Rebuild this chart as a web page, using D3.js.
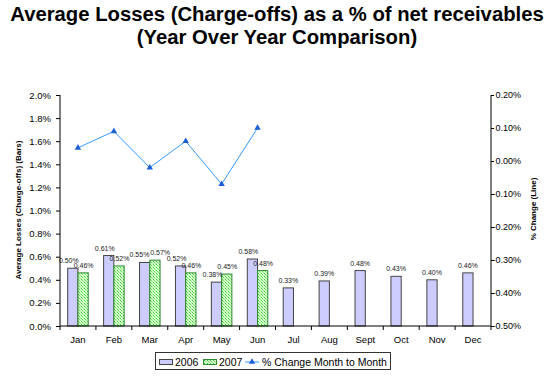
<!DOCTYPE html>
<html><head><meta charset="utf-8">
<script src="https://cdn.jsdelivr.net/npm/d3@7"></script>
<style>body{margin:0;background:#fff}svg{display:block;font-family:Arial,"Liberation Sans",sans-serif}</style>
</head><body><svg id="c" width="550" height="382"></svg>
<script>
const months = ["Jan","Feb","Mar","Apr","May","Jun","Jul","Aug","Sept","Oct","Nov","Dec"];
const losses2006 = [0.50,0.61,0.55,0.52,0.38,0.58,0.33,0.39,0.48,0.43,0.40,0.46];
const losses2007 = [0.46,0.52,0.57,0.46,0.45,0.48];
const pctChange = [0.04,0.09,-0.02,0.06,-0.07,0.10];
const leftTicks = [0,0.2,0.4,0.6,0.8,1.0,1.2,1.4,1.6,1.8,2.0];
const rightTicks = [-0.5,-0.4,-0.3,-0.2,-0.1,0,0.1,0.2];
const titleLines = ["Average Losses (Charge-offs) as a % of net receivables","(Year Over Year Comparison)"];
const seriesNames = ["2006","2007","% Change Month to Month"];

const svg = d3.select("#c");
const L = 60, R = 491, T = 95, B = 326;

const defs = svg.append("defs");
const pat = defs.append("pattern").attr("id","grn").attr("width",3).attr("height",3).attr("patternUnits","userSpaceOnUse");
pat.append("rect").attr("width",3).attr("height",3).attr("fill","#d8ffd0");
pat.append("rect").attr("x",0).attr("y",0).attr("width",1).attr("height",1).attr("fill","#33cc33");
pat.append("rect").attr("x",1).attr("y",1).attr("width",1).attr("height",1).attr("fill","#66dd55");
pat.append("rect").attr("x",2).attr("y",2).attr("width",1).attr("height",1).attr("fill","#99ee88");

// title
svg.append("g").selectAll("text").data(titleLines).join("text")
  .attr("x",277).attr("y",(d,i)=>21+i*23).attr("text-anchor","middle")
  .attr("font-size","20.3px").attr("font-weight","bold").attr("fill","#000").text(d=>d);

const x = d3.scaleBand().domain(months).range([L,R]).padding(0);
const bw = x.bandwidth();
const barW = bw/3.5, gap = bw*0.75/3.5;
const yL = d3.scaleLinear().domain([0,2.0]).range([B,T]);
const yR = d3.scaleLinear().domain([-0.5,0.2]).range([B,T]);

// bars 2006
svg.append("g").selectAll("rect").data(losses2006).join("rect")
  .attr("x",(d,i)=>x(months[i])+gap).attr("y",d=>yL(d))
  .attr("width",barW).attr("height",d=>B-yL(d))
  .attr("fill","#ccccff").attr("stroke","#444").attr("stroke-width",1);
// bars 2007
svg.append("g").selectAll("rect").data(losses2007).join("rect")
  .attr("x",(d,i)=>x(months[i])+gap+barW).attr("y",d=>yL(d))
  .attr("width",barW).attr("height",d=>B-yL(d))
  .attr("fill","url(#grn)").attr("stroke","#2e8b2e").attr("stroke-width",1);

// label nudges to avoid collisions between neighbouring labels
const close07 = i => i<losses2007.length && losses2007[i]>losses2006[i] && losses2007[i]-losses2006[i]<0.05;
const dx06 = i => i<losses2007.length ? (close07(i)?-5.2:-4) : 0;
const dx07 = i => close07(i) ? 5.2 : 0.5;

// data labels
svg.append("g").selectAll("text").data(losses2006).join("text")
  .attr("x",(d,i)=>x(months[i])+gap+barW/2+dx06(i))
  .attr("y",d=>yL(d)-5).attr("text-anchor","middle")
  .attr("font-size","7px").attr("fill","#222").text(d=>d.toFixed(2)+"%");
svg.append("g").selectAll("text").data(losses2007).join("text")
  .attr("x",(d,i)=>x(months[i])+gap+barW*1.5+dx07(i))
  .attr("y",d=>yL(d)-5).attr("text-anchor","middle")
  .attr("font-size","7px").attr("fill","#222").text(d=>d.toFixed(2)+"%");

// left axis
const gl = svg.append("g").attr("transform",`translate(${L},0)`)
  .call(d3.axisLeft(yL).tickValues(leftTicks).tickFormat(d=>d.toFixed(1)+"%").tickSize(4).tickPadding(5));
gl.selectAll("text").attr("font-size","9.5px").attr("fill","#000").attr("font-family","Arial,'Liberation Sans',sans-serif");
gl.select(".domain").attr("d",`M0,${T}V${B}`);

// right axis
const gr = svg.append("g").attr("transform",`translate(${R},0)`)
  .call(d3.axisRight(yR).tickValues(rightTicks).tickFormat(d=>d.toFixed(2)+"%").tickSize(3).tickPadding(1));
gr.selectAll("text").attr("font-size","9px").attr("fill","#000").attr("text-anchor","end").attr("x",30).attr("font-family","Arial,'Liberation Sans',sans-serif");
gr.select(".domain").attr("d",`M0,${T}V${B}`);

// bottom axis
const gb = svg.append("g").attr("transform",`translate(0,${B})`)
  .call(d3.axisBottom(x).tickSize(0).tickPadding(10));
gb.selectAll("text").attr("font-size","9.5px").attr("fill","#000").attr("font-family","Arial,'Liberation Sans',sans-serif");
gb.select(".domain").attr("d",`M${L},0H${R}`);
gb.append("g").selectAll("line").data(d3.range(months.length+1)).join("line")
  .attr("x1",i=>L+i*bw).attr("x2",i=>L+i*bw).attr("y1",0).attr("y2",4).attr("stroke","#000");

// line series
const lineGen = d3.line().x((d,i)=>x(months[i])+bw/2).y(d=>yR(d));
svg.append("path").datum(pctChange).attr("d",lineGen).attr("fill","none").attr("stroke","#3399ff").attr("stroke-width",1);
const tri = d3.symbol(d3.symbolTriangle).size(18);
svg.append("g").selectAll("path").data(pctChange).join("path")
  .attr("transform",(d,i)=>`translate(${x(months[i])+bw/2},${yR(d)})`).attr("d",tri).attr("fill","#1a5fd6");

// axis titles
svg.append("text").attr("transform","translate(21,210) rotate(-90)").attr("text-anchor","middle")
  .attr("font-size","8px").attr("font-weight","bold").text("Average Losses (Charge-offs) (Bars)");
svg.append("text").attr("transform","translate(536,209) rotate(-90)").attr("text-anchor","middle")
  .attr("font-size","8px").attr("font-weight","bold").text("% Change (Line)");

// legend
const lg = svg.append("g");
lg.append("rect").attr("x",155.5).attr("y",352.5).attr("width",235).attr("height",17).attr("fill","#fff").attr("stroke","#333");
lg.append("rect").attr("x",159.5).attr("y",359.5).attr("width",13).attr("height",5).attr("fill","#ccccff").attr("stroke","#444");
lg.append("rect").attr("x",203.5).attr("y",359.5).attr("width",13).attr("height",5).attr("fill","url(#grn)").attr("stroke","#2e8b2e");
lg.append("line").attr("x1",245).attr("x2",259).attr("y1",362).attr("y2",362).attr("stroke","#3399ff");
lg.append("path").attr("transform","translate(252,362)").attr("d",tri).attr("fill","#1a5fd6");
lg.selectAll("text.lt").data(seriesNames).join("text").attr("class","lt")
  .attr("x",(d,i)=>[175,219,262][i]).attr("y",365.5).attr("font-size","10.5px").attr("fill","#000").text(d=>d);
</script></body></html>
